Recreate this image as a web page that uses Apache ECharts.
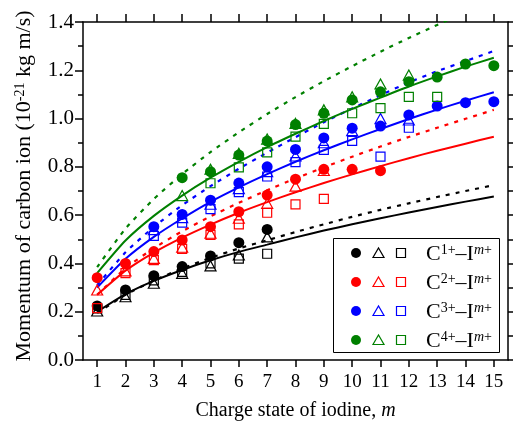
<!DOCTYPE html>
<html>
<head>
<meta charset="utf-8">
<script src="https://cdn.jsdelivr.net/npm/echarts@6/dist/echarts.min.js"></script>
<style>html,body{margin:0;padding:0;background:#fff}#c{width:513px;height:429px}</style>
</head>
<body>
<div id="c"></div>
<script>
// Charge state of iodine
const m = [1, 2, 3, 4, 5, 6, 7, 8, 9, 10, 11, 12, 13, 14, 15];
const xTicks = [1, 2, 3, 4, 5, 6, 7, 8, 9, 10, 11, 12, 13, 14, 15];
const yTicks = [0, 0.2, 0.4, 0.6, 0.8, 1.0, 1.2, 1.4];

// C1+ (black)
const c1Circle = [0.224, 0.29, 0.349, 0.387, 0.431, 0.486, 0.541, null, null, null, null, null, null, null, null];
const c1Tri    = [0.203, 0.262, 0.318, 0.359, 0.39, 0.435, 0.51, null, null, null, null, null, null, null, null];
const c1Sq     = [0.214, 0.27, 0.33, 0.365, 0.40, 0.42, 0.44, null, null, null, null, null, null, null, null];
const c1Solid  = [0.200, 0.273, 0.328, 0.373, 0.413, 0.448, 0.478, 0.508, 0.536, 0.562, 0.587, 0.611, 0.634, 0.656, 0.677];
const c1Dot    = [0.195, 0.270, 0.329, 0.379, 0.423, 0.462, 0.496, 0.530, 0.562, 0.593, 0.622, 0.649, 0.675, 0.700, 0.724];

// C2+ (red)
const c2Circle = [0.341, 0.40, 0.449, 0.497, 0.552, 0.614, 0.683, 0.749, 0.79, 0.79, 0.784, null, null, null, null];
const c2Tri    = [0.29, 0.369, 0.421, 0.467, 0.525, 0.587, 0.649, 0.72, 0.785, null, null, null, null, null, null];
const c2Sq     = [0.215, 0.36, 0.414, 0.46, 0.518, 0.562, 0.61, 0.645, 0.667, null, null, null, null, null, null];
const c2Solid  = [0.27, 0.370, 0.445, 0.507, 0.561, 0.610, 0.654, 0.695, 0.733, 0.769, 0.803, 0.836, 0.867, 0.896, 0.925];
const c2Dot    = [0.27, 0.380, 0.463, 0.533, 0.595, 0.651, 0.703, 0.752, 0.798, 0.842, 0.884, 0.924, 0.962, 0.999, 1.036];

// C3+ (blue)
const c3Circle = [null, null, 0.552, 0.603, 0.662, 0.733, 0.80, 0.872, 0.92, 0.96, 0.969, 1.015, 1.052, 1.066, 1.07];
const c3Tri    = [null, null, 0.54, 0.59, 0.645, 0.71, 0.78, 0.845, 0.90, 0.95, 1.00, 0.994, null, null, null];
const c3Sq     = [null, null, 0.514, 0.569, 0.625, 0.695, 0.76, 0.82, 0.87, 0.908, 0.842, 0.962, null, null, null];
const c3Solid  = [0.30, 0.419, 0.510, 0.586, 0.655, 0.715, 0.770, 0.821, 0.869, 0.914, 0.957, 0.998, 1.037, 1.074, 1.109];
const c3Dot    = [0.31, 0.446, 0.551, 0.641, 0.720, 0.792, 0.859, 0.923, 0.985, 1.042, 1.097, 1.150, 1.196, 1.238, 1.280];

// C4+ (green)
const c4Circle = [null, null, null, 0.755, 0.78, 0.849, 0.907, 0.975, 1.022, 1.077, 1.111, 1.153, 1.172, 1.226, 1.219];
const c4Tri    = [null, null, null, 0.681, 0.79, 0.856, 0.915, 0.98, 1.036, 1.09, 1.143, 1.18, null, null, null];
const c4Sq     = [null, null, null, null, 0.732, 0.798, 0.86, 0.925, 0.978, 1.022, 1.043, 1.09, 1.09, null, null];
const c4Solid  = [0.36, 0.495, 0.597, 0.681, 0.755, 0.821, 0.882, 0.937, 0.990, 1.040, 1.087, 1.133, 1.175, 1.215, 1.252];
const c4Dot    = [0.385, 0.544, 0.667, 0.770, 0.861, 0.943, 1.019, 1.089, 1.155, 1.217, 1.277, 1.334, 1.388, 1.441, 1.491];

const legendLabels = ['1+', '2+', '3+', '4+'];

const FONT = '"Liberation Serif", "Times New Roman", serif';
const colors = ['#000000', '#ff0000', '#0000ff', '#008000'];

function pairs(arr) {
  const out = [];
  arr.forEach((v, i) => { if (v !== null) out.push([m[i], v]); });
  return out;
}

const groups = [
  [c1Circle, c1Tri, c1Sq, c1Solid, c1Dot],
  [c2Circle, c2Tri, c2Sq, c2Solid, c2Dot],
  [c3Circle, c3Tri, c3Sq, c3Solid, c3Dot],
  [c4Circle, c4Tri, c4Sq, c4Solid, c4Dot]
];

const series = [];
groups.forEach((g, gi) => {
  const col = colors[gi];
  series.push({
    type: 'line', data: pairs(g[3]), showSymbol: false, smooth: 0.2, z: 2,
    lineStyle: { color: col, width: 2 }, clip: true, silent: true
  });
  series.push({
    type: 'line', data: pairs(g[4]), showSymbol: false, smooth: 0.2, z: 2,
    lineStyle: { color: col, width: 2.2, type: [4, 6] }, clip: true, silent: true
  });
});
groups.forEach((g, gi) => {
  const col = colors[gi];
  series.push({
    type: 'scatter', data: pairs(g[0]), symbol: 'circle', symbolSize: 11, z: 3 + gi,
    itemStyle: { color: col, opacity: 1 }
  });
  series.push({
    type: 'scatter', data: pairs(g[1]), symbol: 'triangle', symbolSize: [11, 10], z: 3 + gi,
    itemStyle: { color: 'transparent', borderColor: col, borderWidth: 1.2, opacity: 1 }
  });
  series.push({
    type: 'scatter', data: pairs(g[2]), symbol: 'rect', symbolSize: 9, z: 3 + gi,
    itemStyle: { color: 'transparent', borderColor: col, borderWidth: 1.2, opacity: 1 }
  });
});

// legend box (graphic)
const legendEls = [{
  type: 'rect', shape: { x: 333.5, y: 238.5, width: 166, height: 114 },
  style: { fill: '#fff', stroke: '#000', lineWidth: 1 }, z: 100
}];
const rowsY = [253, 282, 311, 340];
rowsY.forEach((y, i) => {
  const col = colors[i];
  legendEls.push({ type: 'circle', shape: { cx: 356, cy: y, r: 5 }, style: { fill: col }, z: 101 });
  legendEls.push({ type: 'polygon', shape: { points: [[373, y + 4.5], [384, y + 4.5], [378.5, y - 5]] },
    style: { fill: 'none', stroke: col, lineWidth: 1.2 }, z: 101 });
  legendEls.push({ type: 'rect', shape: { x: 396.5, y: y - 4.5, width: 9, height: 9 },
    style: { fill: 'none', stroke: col, lineWidth: 1.2 }, z: 101 });
  legendEls.push({
    type: 'text', x: 426, y: y + 1, z: 101,
    style: {
      text: 'C{sup|' + legendLabels[i] + '}–I{supi|m}{sup|+}',
      font: '22px ' + FONT, fill: '#000', verticalAlign: 'middle', align: 'left',
      rich: {
        sup: { fontSize: 14, fontFamily: FONT, verticalAlign: 'top', lineHeight: 14, fill: '#000' },
        supi: { fontSize: 14, fontFamily: FONT, fontStyle: 'italic', verticalAlign: 'top', lineHeight: 14, fill: '#000' }
      }
    }
  });
});

const axisLineStyle = { color: '#000', width: 1.5 };
const option = {
  animation: false,
  backgroundColor: '#fff',
  grid: { left: 83, right: 5, top: 22, bottom: 69, containLabel: false },
  xAxis: [{
    type: 'value', position: 'bottom', min: 0.5, max: 15.5,
    axisLine: { show: true, onZero: false, lineStyle: axisLineStyle },
    axisTick: { show: true, customValues: xTicks, length: 7, lineStyle: axisLineStyle },
    axisLabel: { customValues: xTicks, fontFamily: FONT, fontSize: 19, color: '#000', margin: 13 },
    splitLine: { show: false },
    name: 'Charge state of iodine, {i|m}', nameLocation: 'middle', nameGap: 41,
    nameTextStyle: { fontFamily: FONT, fontSize: 20, color: '#000',
      rich: { i: { fontFamily: FONT, fontSize: 20, fontStyle: 'italic', color: '#000' } } }
  }, {
    type: 'value', position: 'top', min: 0.5, max: 15.5,
    axisLine: { show: true, onZero: false, lineStyle: axisLineStyle },
    axisTick: { show: true, customValues: xTicks, length: 8, lineStyle: axisLineStyle },
    axisLabel: { show: false }, splitLine: { show: false }
  }],
  yAxis: [{
    type: 'value', position: 'left', min: 0, max: 1.4, interval: 0.2,
    axisLine: { show: true, onZero: false, lineStyle: axisLineStyle },
    axisTick: { show: true, length: 8, lineStyle: axisLineStyle },
    minorTick: { show: true, splitNumber: 2, length: 5, lineStyle: { color: '#000', width: 1.5 } },
    axisLabel: { fontFamily: FONT, fontSize: 21, color: '#000', margin: 9,
      formatter: v => v.toFixed(1) },
    splitLine: { show: false }, minorSplitLine: { show: false },
    name: 'Momentum of carbon ion (10{sup|-21} kg m/s)', nameLocation: 'middle', nameGap: 48,
    nameRotate: 90,
    nameTextStyle: { fontFamily: FONT, fontSize: 22, color: '#000', padding: [0, 0, 0, 10],
      rich: { sup: { fontFamily: FONT, fontSize: 14, verticalAlign: 'top', lineHeight: 14, color: '#000' } } }
  }, {
    type: 'value', position: 'right', min: 0, max: 1.4, interval: 0.1,
    axisLine: { show: true, onZero: false, lineStyle: axisLineStyle },
    axisTick: { show: true, length: 5, lineStyle: axisLineStyle },
    axisLabel: { show: false }, splitLine: { show: false }
  }],
  series: series,
  graphic: legendEls
};

const chart = echarts.init(document.getElementById('c'), null, { renderer: 'canvas' });
chart.setOption(option);
</script>
</body>
</html>
